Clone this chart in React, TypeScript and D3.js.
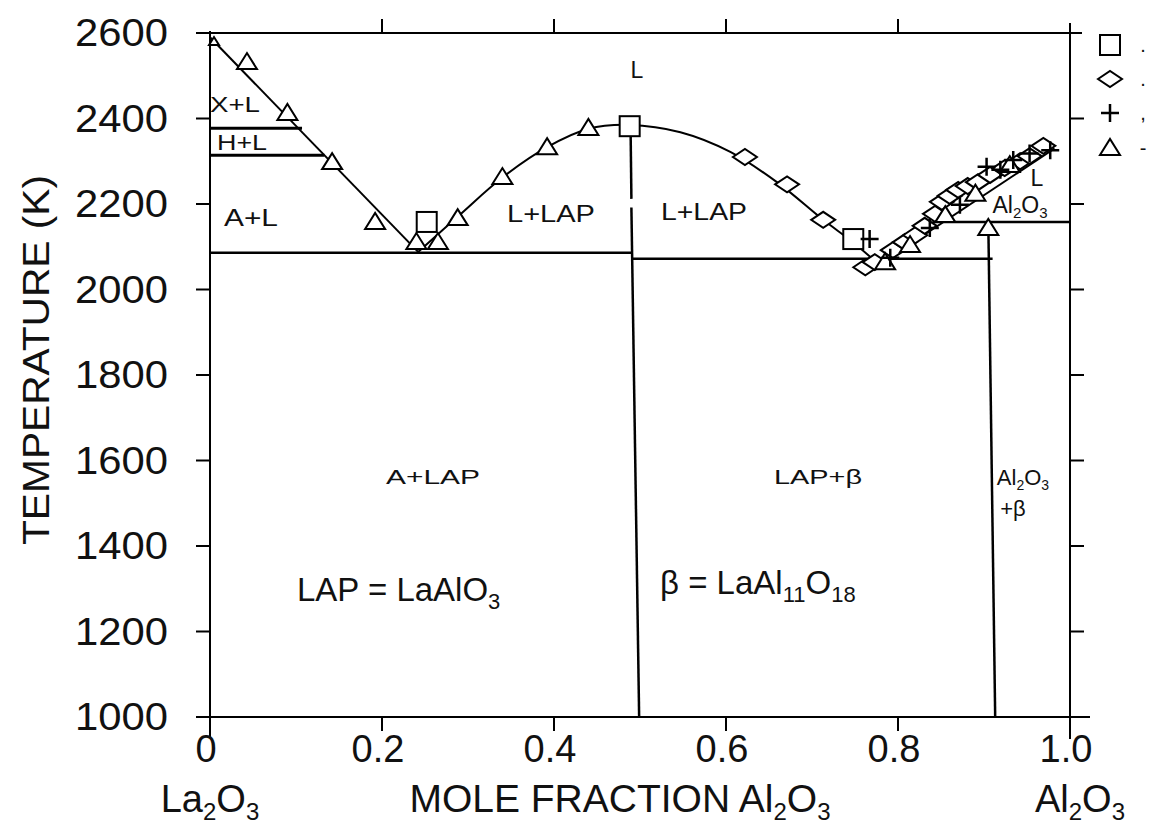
import React from "react";
import * as d3 from "d3";

// ---- data ----
const yTickValues = [1000, 1200, 1400, 1600, 1800, 2000, 2200, 2400, 2600];
const xTickValues = [0, 0.2, 0.4, 0.6, 0.8, 1.0];
const xTickLabels = ["0", "0.2", "0.4", "0.6", "0.8", "1.0"];
const topTickValues = [0.2, 0.4, 0.6, 0.8];
const rightTickValues = [1200, 1400, 1600, 1800, 2000, 2200, 2400];

type P = [number, number];

const leftLiquidus: P[] = [[0, 2590], [0.242, 2088]];
const lapLiquidus: P[] = [
  [0.242, 2088], [0.29, 2174], [0.34, 2262], [0.392, 2333], [0.44, 2376],
  [0.488, 2385], [0.547, 2368], [0.605, 2322], [0.66, 2250], [0.713, 2163],
  [0.748, 2110], [0.778, 2058],
];
const aluminaLiquidus: P[] = [[0.778, 2058], [0.982, 2330]];

const xlBoundary: P[] = [[0, 2377], [0.107, 2377]];
const hlBoundary: P[] = [[0, 2314], [0.133, 2314]];
const eutecticLeft: P[] = [[0, 2086], [0.49, 2086]];
const eutecticRight: P[] = [[0.49, 2072], [0.91, 2072]];
const aluminaBetaLine: P[] = [[0.84, 2158], [1, 2158]];
const lapVerticalTop: P[] = [[0.489, 2385], [0.49, 2212]];
const lapVerticalBottom: P[] = [[0.49, 2192], [0.499, 1000]];
const betaVertical: P[] = [[0.905, 2158], [0.913, 1000]];

const squares: P[] = [[0.252, 2158], [0.488, 2382], [0.748, 2118]];
const diamonds: P[] = [
  [0.622, 2310], [0.671, 2246], [0.713, 2163], [0.762, 2052],
  [0.773, 2064], [0.794, 2092], [0.808, 2111], [0.82, 2127], [0.831, 2149],
  [0.843, 2177], [0.851, 2205], [0.86, 2219], [0.87, 2233], [0.881, 2242],
  [0.893, 2251], [0.907, 2268], [0.924, 2284], [0.942, 2300], [0.953, 2312],
  [0.969, 2336],
];
const pluses: P[] = [
  [0.767, 2118], [0.791, 2074], [0.837, 2144], [0.872, 2198], [0.903, 2287],
  [0.919, 2280], [0.934, 2303], [0.953, 2318], [0.977, 2326],
];
const cornerTriangles: P[] = [[0.0, 2580]];
const triangles: P[] = [
  [0.043, 2532], [0.09, 2413], [0.142, 2298], [0.192, 2158],
  [0.24, 2111], [0.265, 2111], [0.288, 2167], [0.34, 2263], [0.392, 2333],
  [0.44, 2378], [0.905, 2144],
  [0.785, 2064], [0.814, 2104], [0.855, 2174], [0.89, 2224], [0.93, 2291],
];
const legendMarks = [".", ".", ",", "-"];

// ---- layout ----
const W = 1151;
const H = 825;
const x = d3.scaleLinear().domain([0, 1]).range([210, 1070]);
const y = d3.scaleLinear().domain([1000, 2600]).range([717, 33]);
const line = d3.line<P>().x((d) => x(d[0])).y((d) => y(d[1]));
const curve = d3
  .line<P>()
  .x((d) => x(d[0]))
  .y((d) => y(d[1]))
  .curve(d3.curveCatmullRom.alpha(0.5));

const FONT = "'Liberation Sans', Arial, Helvetica, sans-serif";

function Triangle({ cx, cy, s = 1 }: { cx: number; cy: number; s?: number }) {
  return (
    <path
      d={`M${cx - 10 * s},${cy + 7 * s} L${cx + 10 * s},${cy + 7 * s} L${cx},${cy - 9 * s} Z`}
      fill="white"
      stroke="black"
      strokeWidth={2}
    />
  );
}
function Square({ cx, cy }: { cx: number; cy: number }) {
  return (
    <rect x={cx - 10} y={cy - 10} width={20} height={20} fill="white" stroke="black" strokeWidth={2} />
  );
}
function Diamond({ cx, cy }: { cx: number; cy: number }) {
  return (
    <path
      d={`M${cx - 12},${cy} L${cx},${cy - 8} L${cx + 12},${cy} L${cx},${cy + 8} Z`}
      fill="white"
      stroke="black"
      strokeWidth={2}
    />
  );
}
function Plus({ cx, cy }: { cx: number; cy: number }) {
  return (
    <path d={`M${cx - 9},${cy} H${cx + 9} M${cx},${cy - 9} V${cy + 9}`} stroke="black" strokeWidth={2.5} />
  );
}

function Label({
  x: lx,
  y: ly,
  text,
  size = 22,
  len,
}: {
  x: number;
  y: number;
  text: string;
  size?: number;
  len?: number;
}) {
  return (
    <text
      x={lx}
      y={ly}
      fontSize={size}
      fontFamily={FONT}
      textAnchor="middle"
      dominantBaseline="central"
      fill="#111"
      {...(len ? { textLength: len, lengthAdjust: "spacingAndGlyphs" } : {})}
    >
      {text}
    </text>
  );
}

export default function App() {
  return (
    <svg width={W} height={H} style={{ position: "absolute", left: 0, top: 0, background: "white" }}>
      <rect width={W} height={H} fill="white" />
      {/* frame */}
      <g stroke="black" strokeWidth={2} fill="none">
        <line x1={x(0)} x2={x(0)} y1={y(2600) - 2} y2={y(1000) + 20} />
        <line x1={x(0) - 6} x2={x(1) + 12} y1={y(2600)} y2={y(2600)} />
        <line x1={x(1)} x2={x(1)} y1={y(2600) - 10} y2={y(1000) + 22} />
        <line x1={x(0) - 14} x2={x(1) + 20} y1={y(1000)} y2={y(1000)} />
      </g>
      {/* ticks */}
      <g stroke="black" strokeWidth={2}>
        {yTickValues.map((t) => (
          <line key={"yl" + t} x1={x(0) - 14} x2={x(0)} y1={y(t)} y2={y(t)} />
        ))}
        {rightTickValues.map((t) => (
          <line key={"yr" + t} x1={x(1)} x2={x(1) + 14} y1={y(t)} y2={y(t)} />
        ))}
        {xTickValues.slice(1, 5).map((t) => (
          <line key={"xb" + t} x1={x(t)} x2={x(t)} y1={y(1000)} y2={y(1000) + 14} />
        ))}
        {topTickValues.map((t) => (
          <line key={"xt" + t} x1={x(t)} x2={x(t)} y1={y(2600)} y2={y(2600) - 14} />
        ))}
      </g>
      {/* tick labels */}
      {yTickValues.map((t) => (
        <text
          key={"yt" + t}
          x={168}
          y={y(t)}
          fontSize={38}
          fontFamily={FONT}
          textAnchor="end"
          dominantBaseline="central"
          fill="#111"
          textLength={93}
          lengthAdjust="spacingAndGlyphs"
        >
          {t}
        </text>
      ))}
      {xTickValues.map((t, i) => (
        <text
          key={"xt" + t}
          x={x(t) - 4}
          y={749}
          fontSize={38}
          fontFamily={FONT}
          textAnchor="middle"
          dominantBaseline="central"
          fill="#111"
        >
          {xTickLabels[i]}
        </text>
      ))}
      {/* axis titles */}
      <text
        transform={`translate(36,360) rotate(-90)`}
        fontSize={36}
        fontFamily={FONT}
        textAnchor="middle"
        dominantBaseline="central"
        fill="#111"
        textLength={370}
        lengthAdjust="spacingAndGlyphs"
      >
        TEMPERATURE (K)
      </text>
      <text x={620} y={812} fontSize={39} fontFamily={FONT} textAnchor="middle" fill="#111">
        MOLE FRACTION Al<tspan fontSize={24} dy={8}>2</tspan>
        <tspan dy={-8}>O</tspan>
        <tspan fontSize={24} dy={8}>3</tspan>
      </text>
      <text x={210} y={812} fontSize={38} fontFamily={FONT} textAnchor="middle" fill="#111">
        La<tspan fontSize={24} dy={8}>2</tspan>
        <tspan dy={-8}>O</tspan>
        <tspan fontSize={24} dy={8}>3</tspan>
      </text>
      <text x={1080} y={812} fontSize={38} fontFamily={FONT} textAnchor="middle" fill="#111">
        Al<tspan fontSize={24} dy={8}>2</tspan>
        <tspan dy={-8}>O</tspan>
        <tspan fontSize={24} dy={8}>3</tspan>
      </text>

      {/* phase boundaries */}
      <g fill="none" stroke="black">
        <path d={line(leftLiquidus)!} strokeWidth={2} />
        <path d={curve(lapLiquidus)!} strokeWidth={2} />
        <path d={line(aluminaLiquidus)!} strokeWidth={2} />
        <path d={line(xlBoundary)!} strokeWidth={3} />
        <path d={line(hlBoundary)!} strokeWidth={3} />
        <path d={line(eutecticLeft)!} strokeWidth={2.5} />
        <path d={line(eutecticRight)!} strokeWidth={2.5} />
        <path d={line(aluminaBetaLine)!} strokeWidth={2.5} />
        <path d={line(lapVerticalTop)!} strokeWidth={2.5} />
        <path d={line(lapVerticalBottom)!} strokeWidth={2.5} />
        <path d={line(betaVertical)!} strokeWidth={2.5} />
      </g>

      {/* data markers */}
      {diamonds.map((d, i) => (
        <Diamond key={"d" + i} cx={x(d[0])} cy={y(d[1])} />
      ))}
      {cornerTriangles.map((d, i) => (
        <Triangle key={"c" + i} cx={x(d[0]) + 4} cy={y(d[1])} s={0.5} />
      ))}
      {triangles.map((d, i) => (
        <Triangle key={"t" + i} cx={x(d[0])} cy={y(d[1])} />
      ))}
      {squares.map((d, i) => (
        <Square key={"s" + i} cx={x(d[0])} cy={y(d[1])} />
      ))}
      {pluses.map((d, i) => (
        <Plus key={"p" + i} cx={x(d[0])} cy={y(d[1])} />
      ))}

      {/* region labels */}
      <Label x={637} y={70} text="L" size={23} />
      <Label x={235} y={104} text="X+L" size={22} len={50} />
      <Label x={242} y={142} text="H+L" size={22} len={50} />
      <Label x={251} y={218} text="A+L" size={23} len={54} />
      <Label x={551} y={214} text="L+LAP" size={23} len={88} />
      <Label x={704} y={212} text="L+LAP" size={23} len={86} />
      <Label x={1037} y={178} text="L" size={23} />
      <text x={1020} y={213} fontSize={23} fontFamily={FONT} textAnchor="middle" fill="#111">
        Al<tspan fontSize={15} dy={5}>2</tspan>
        <tspan dy={-5}>O</tspan>
        <tspan fontSize={15} dy={5}>3</tspan>
      </text>
      <Label x={433} y={476} text="A+LAP" size={21} len={94} />
      <Label x={818} y={476} text="LAP+β" size={21} len={88} />
      <text x={1023} y={485} fontSize={22} fontFamily={FONT} textAnchor="middle" fill="#111">
        Al<tspan fontSize={14} dy={5}>2</tspan>
        <tspan dy={-5}>O</tspan>
        <tspan fontSize={14} dy={5}>3</tspan>
      </text>
      <Label x={1013} y={508} text="+β" size={22} />

      <text x={297} y={601} fontSize={33} fontFamily={FONT} fill="#111">
        LAP = LaAlO<tspan fontSize={22} dy={8}>3</tspan>
      </text>
      <text x={660} y={594} fontSize={33} fontFamily={FONT} fill="#111">
        β = LaAl<tspan fontSize={22} dy={8}>11</tspan>
        <tspan dy={-8}>O</tspan>
        <tspan fontSize={22} dy={8}>18</tspan>
      </text>

      {/* legend */}
      <Square cx={1110} cy={45} />
      <Diamond cx={1110} cy={79} />
      <Plus cx={1110} cy={113} />
      <Triangle cx={1110} cy={148} />
      {legendMarks.map((m, i) => (
        <text
          key={"lm" + i}
          x={1143}
          y={[45, 79, 113, 148][i]}
          fontSize={20}
          fontFamily={FONT}
          textAnchor="middle"
          dominantBaseline="central"
          fill="#111"
        >
          {m}
        </text>
      ))}
    </svg>
  );
}
